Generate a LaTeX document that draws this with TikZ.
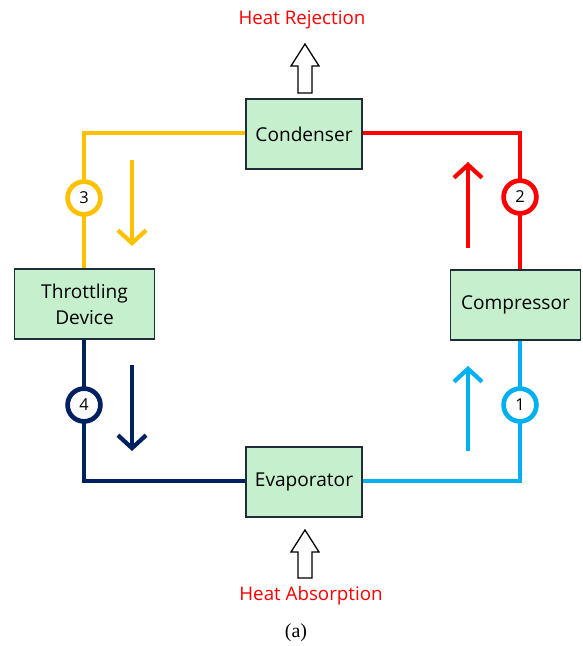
\documentclass[tikz,border=0pt]{standalone}
\usepackage{fontspec}
\setmainfont{Open Sans}
\newfontfamily\capfont{Liberation Serif}
\usetikzlibrary{arrows.meta}

\definecolor{cyc3}{HTML}{FFC000}
\definecolor{cyc2}{HTML}{FF0000}
\definecolor{cyc1}{HTML}{00B0F0}
\definecolor{cyc4}{HTML}{002060}
\definecolor{boxfill}{HTML}{C6EFCE}
\definecolor{boxline}{HTML}{1F2D3A}

\tikzset{
    unit/.style={draw=boxline, fill=boxfill, line width=1.3pt, font=\fontsize{16.3}{22}\selectfont,
        align=center, inner sep=0pt, minimum height=70*0.85pt},
    pipe/.style={line width=3.6pt},
    state/.style={circle, draw, fill=white, line width=4pt, minimum size=28pt, inner sep=0pt,
        font=\fontsize{14}{16}\selectfont},
    flow/.style={line width=3.6pt, -{Straight Barb[length=11pt, width=24pt, line width=3.6pt]}},
    heat/.style={draw, fill=white, line width=1.1pt, line join=miter},
    heatlabel/.style={text=cyc2, font=\fontsize{16}{19}\selectfont}
}

\begin{document}
\begin{tikzpicture}[x=0.03cm, y=-0.03cm]

    \useasboundingbox (0,0) rectangle (582,646);

    %% Refrigeration cycle

    % Units
    \node[unit, minimum width=116*0.85pt] (cond) at (304,134) {Condenser};
    \node[unit, minimum width=141*0.85pt] (thrott) at (84.5,304) {Throttling\\Device};
    \node[unit, minimum width=131*0.85pt] (comp) at (515.5,305) {Compressor};
    \node[unit, minimum width=116*0.85pt] (evap) at (304,482) {Evaporator};

    % Corners
    \coordinate (c3) at (84,133);
    \coordinate (c2) at (520,133);
    \coordinate (c1) at (520,481);
    \coordinate (c4) at (84,481);

    % Pipes
    \draw[pipe, cyc3] (cond.west |- c3) -- (c3) -- (c3 |- thrott.north);
    \draw[pipe, cyc2] (cond.east |- c2) -- (c2) -- (c2 |- comp.north);
    \draw[pipe, cyc1] (c1 |- comp.south) -- (c1) -- (evap.east |- c1);
    \draw[pipe, cyc4] (c4 |- thrott.south) -- (c4) -- (evap.west |- c4);

    % State points
    \node[state, draw=cyc1] (p1) at (520,405) {1};
    \node[state, draw=cyc2] (p2) at (520,197) {2};
    \node[state, draw=cyc3] (p3) at (84,198) {3};
    \node[state, draw=cyc4] (p4) at (84,405) {4};

    % Flow direction
    \coordinate (f3a) at (132,160);
    \coordinate (f3b) at (132,246);
    \coordinate (f2a) at (468,248);
    \coordinate (f2b) at (468,162);
    \coordinate (f4a) at (132,365);
    \coordinate (f4b) at (132,451);
    \coordinate (f1a) at (468,451);
    \coordinate (f1b) at (468,366);
    \draw[flow, cyc3] (f3a) -- (f3b);
    \draw[flow, cyc2] (f2a) -- (f2b);
    \draw[flow, cyc4] (f4a) -- (f4b);
    \draw[flow, cyc1] (f1a) -- (f1b);

    % Heat transfer
    \coordinate (qout) at (305,93);
    \coordinate (qin) at (305,578);
    \draw[heat] (qout) -- ++(7,0) -- ++(0,-27) -- ++(7,0) -- ++(-14,-22) -- ++(-14,22)
        -- ++(7,0) -- ++(0,27) -- cycle;
    \draw[heat] (qin) -- ++(7,0) -- ++(0,-26) -- ++(7,0) -- ++(-14,-22) -- ++(-14,22)
        -- ++(7,0) -- ++(0,26) -- cycle;
    \node[heatlabel] (rej) at (302,20) {Heat Rejection};
    \node[heatlabel] (abs) at (311,596) {Heat Absorption};

    % Caption
    \node[font=\capfont\fontsize{17}{20}\selectfont] (cap) at (296,633) {(a)};

\end{tikzpicture}
\end{document}
